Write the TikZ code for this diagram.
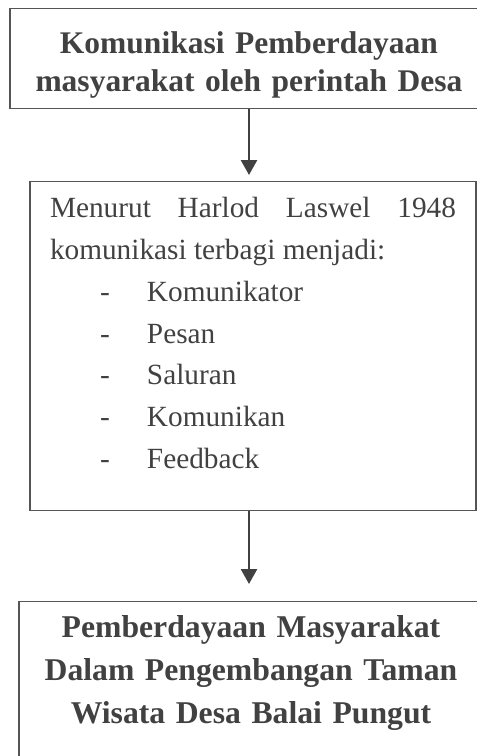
\documentclass[tikz,border=0pt]{standalone}
\usepackage{fontspec}
\setmainfont{Liberation Serif}
\usetikzlibrary{arrows.meta,positioning}
\definecolor{txtgray}{HTML}{414141}
\definecolor{linegray}{HTML}{555555}
\hyphenpenalty=10000

\begin{document}
\begin{tikzpicture}[
        x=1pt, y=-1pt,
        box/.style={
            draw=linegray, line width=1.3pt, text=txtgray,
            inner xsep=0pt, inner ysep=0pt
        },
        titlebox/.style={
            box, align=center,
            font=\fontsize{31.5}{38}\selectfont\bfseries
        },
        listbox/.style={
            box, align=justify, text width=406pt, inner xsep=20pt,
            font=\fontsize{29.3}{41.8}\selectfont
        },
        arrow/.style={-{Triangle[length=15pt,width=16pt]}, line width=2.6pt, draw=txtgray}
        ]

        \clip (0,0) rectangle (477,756);

        % --- Top: komunikasi ---
        \node[titlebox, anchor=north, text width=478pt,
              text height=45pt, text depth=55pt] (komunikasi) at (249,8)
        {Komunikasi Pemberdayaan\\masyarakat oleh perintah Desa};

        % --- Middle: Laswel ---
        \node[listbox, anchor=north, text height=36pt, text depth=293pt] (laswel) at (253,181)
        {Menurut Harlod Laswel 1948 komunikasi terbagi menjadi:\par
         \hspace*{50pt}\makebox[47pt][l]{-}Komunikator\par
         \hspace*{50pt}\makebox[47pt][l]{-}Pesan\par
         \hspace*{50pt}\makebox[47pt][l]{-}Saluran\par
         \hspace*{50pt}\makebox[47pt][l]{-}Komunikan\par
         \hspace*{50pt}\makebox[47pt][l]{-}Feedback};

        % --- Bottom: pemberdayaan ---
        \node[titlebox, anchor=north, text width=464pt,
              font=\fontsize{31.7}{43}\selectfont\bfseries,
              text height=36pt, text depth=200pt] (pemberdayaan) at (251,601)
        {Pemberdayaan Masyarakat\\Dalam Pengembangan Taman\\Wisata Desa Balai Pungut};

        % --- Arrows ---
        \draw[arrow, shorten >=6pt] (komunikasi.south) -- (komunikasi.south |- laswel.north);
        \draw[arrow, shorten >=17pt] (laswel.south -| komunikasi.south) -- (komunikasi.south |- pemberdayaan.north);

    \end{tikzpicture}
\end{document}
